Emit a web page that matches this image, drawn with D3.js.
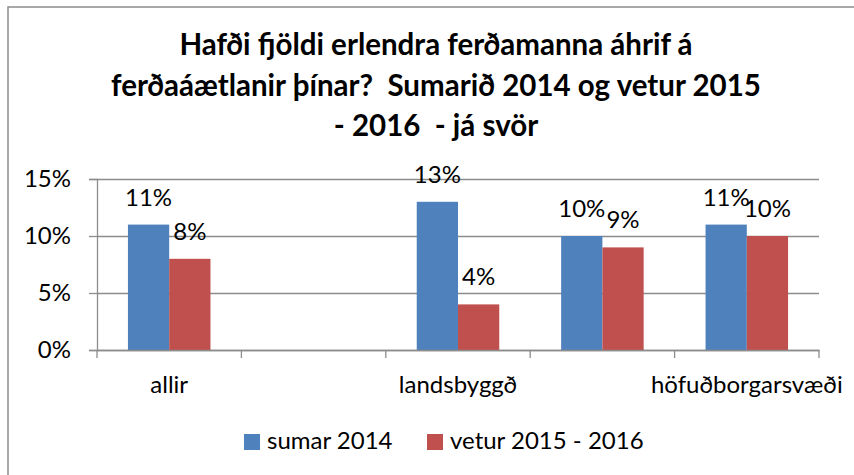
<!DOCTYPE html>
<html>
<head>
<meta charset="utf-8">
<script src="https://cdn.jsdelivr.net/npm/d3@7/dist/d3.min.js"></script>
<style>
  body { margin: 0; background: #fff; }
  svg { display: block; font-family: Lato, "Liberation Sans", sans-serif; }
</style>
</head>
<body>
<svg id="chart" width="854" height="475"></svg>
<script>
// Chart values
const titleLines = [
    "Hafði fjöldi erlendra ferðamanna áhrif á",
    "ferðaáætlanir þínar?  Sumarið 2014 og vetur 2015",
    "- 2016  - já svör"
];
// Excel only printed every other category label
const categories = ["allir", "", "landsbyggð", "", "höfuðborgarsvæði"];
const seriesNames = ["sumar 2014", "vetur 2015 - 2016"];
const seriesColors = ["#4F81BD", "#C0504D"];
const sumar = [0.11, null, 0.13, 0.10, 0.11];
const vetur = [0.08, null, 0.04, 0.09, 0.10];
const yTicks = [0, 0.05, 0.10, 0.15];

const svg = d3.select("#chart");
const gridColor = "#8c8c8c";

// Outer chart frame (right/bottom edges fall outside the picture)
svg.append("rect")
    .attr("x", 8).attr("y", 7)
    .attr("width", 900).attr("height", 500)
    .attr("fill", "none")
    .attr("stroke", gridColor)
    .attr("stroke-width", 1.5);

// Title (keep the double spaces)
svg.append("text")
    .attr("text-anchor", "middle")
    .style("font-weight", "bold")
    .style("font-size", "29.5px")
    .style("white-space", "pre")
    .selectAll("tspan")
    .data(titleLines)
    .join("tspan")
    .attr("x", 436)
    .attr("y", (d, i) => 55 + i * 40.5)
    .text(d => d);

// Scales
const plot = { left: 97, right: 819, top: 179, bottom: 350 };
const x = d3.scaleBand()
    .domain(d3.range(categories.length))
    .range([plot.left, plot.right]);
const y = d3.scaleLinear()
    .domain([0, 0.15])
    .range([plot.bottom, plot.top]);

// bar width: two bars + 150% gap in each category
const barW = x.bandwidth() / 3.5;
const inner = d3.scaleBand()
    .domain([0, 1])
    .range([x.bandwidth() * 0.75 / 3.5, x.bandwidth() * 0.75 / 3.5 + 2 * barW]);

// Horizontal gridlines
const grid = svg.append("g")
    .attr("transform", `translate(${plot.left},0)`)
    .call(d3.axisLeft(y).tickValues(yTicks).tickSize(-(plot.right - plot.left)).tickFormat(""));
grid.select(".domain").remove();
grid.selectAll("line").attr("stroke", gridColor).attr("stroke-width", 1.3);

// Y axis with outward ticks and % labels
const yAxis = svg.append("g")
    .attr("transform", `translate(${plot.left},0)`)
    .call(d3.axisLeft(y).tickValues(yTicks).tickSize(8).tickPadding(18).tickFormat(d3.format(".0%")));
yAxis.select(".domain").attr("stroke", gridColor).attr("stroke-width", 1.3);
yAxis.selectAll("line").attr("stroke", gridColor).attr("stroke-width", 1.3);
yAxis.selectAll("text")
    .attr("dy", "0.32em")
    .style("font-size", "24px")
    .style("font-family", "Lato, sans-serif")
    .attr("fill", "#000");

// Bars
const series = [sumar, vetur];
const bars = svg.append("g");
series.forEach((vals, s) => {
    const rows = vals.map((v, i) => ({ i, v })).filter(d => d.v != null);

    bars.selectAll(`.bar-${s}`)
        .data(rows)
        .join("rect")
        .attr("class", `bar-${s}`)
        .attr("x", d => x(d.i) + inner(s))
        .attr("y", d => y(d.v))
        .attr("width", inner.bandwidth())
        .attr("height", d => y(0) - y(d.v))
        .attr("fill", seriesColors[s]);

    // Data labels above each bar
    bars.selectAll(`.lbl-${s}`)
        .data(rows)
        .join("text")
        .attr("class", `lbl-${s}`)
        .attr("x", d => x(d.i) + inner(s) + inner.bandwidth() / 2)
        .attr("y", d => y(d.v) - 19)
        .attr("text-anchor", "middle")
        .style("font-size", "24px")
        .text(d => d3.format(".0%")(d.v));
});

// X axis: labels under categories, ticks between categories
const xAxis = svg.append("g")
    .attr("transform", `translate(0,${plot.bottom})`)
    .call(d3.axisBottom(x).tickSize(0).tickPadding(26).tickFormat(i => categories[i]));
xAxis.select(".domain").attr("stroke", gridColor).attr("stroke-width", 1.3);
xAxis.selectAll("text")
    .style("font-size", "24px")
    .style("font-family", "Lato, sans-serif")
    .attr("fill", "#000");

const edges = d3.range(categories.length + 1).map(i => plot.left + i * x.step());
svg.append("g")
    .selectAll("line")
    .data(edges)
    .join("line")
    .attr("x1", d => d).attr("x2", d => d)
    .attr("y1", plot.bottom).attr("y2", plot.bottom + 8)
    .attr("stroke", gridColor)
    .attr("stroke-width", 1.3);

// Legend
const legendX = [244, 427];
const legend = svg.append("g")
    .selectAll("g")
    .data(seriesNames)
    .join("g")
    .attr("transform", (d, i) => `translate(${legendX[i]},434)`);
legend.append("rect")
    .attr("width", 16).attr("height", 16)
    .attr("fill", (d, i) => seriesColors[i]);
legend.append("text")
    .attr("x", 23).attr("y", 15)
    .style("font-size", "24px")
    .text(d => d);
</script>
</body>
</html>
